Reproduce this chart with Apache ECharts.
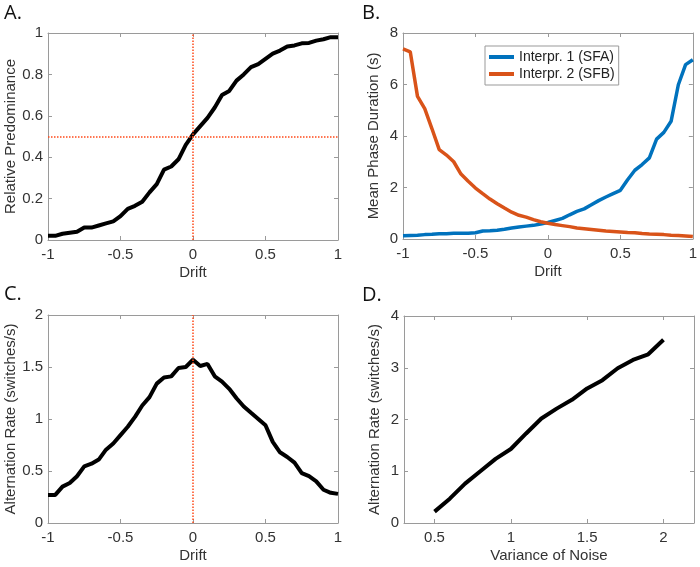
<!DOCTYPE html>
<html>
<head>
<meta charset="utf-8">
<script src="https://cdn.jsdelivr.net/npm/echarts@6/dist/echarts.min.js"></script>
<style>html,body{margin:0;padding:0;background:#fff;}#c{width:700px;height:567px;}</style>
</head>
<body>
<div id="c"></div>
<script>
// ---- data ----
const drift = [-1, -0.95, -0.9, -0.85, -0.8, -0.75, -0.7, -0.65, -0.6, -0.55, -0.5, -0.45, -0.4, -0.35, -0.3, -0.25, -0.2, -0.15, -0.1, -0.05, 0,
  0.05, 0.1, 0.15, 0.2, 0.25, 0.3, 0.35, 0.4, 0.45, 0.5, 0.55, 0.6, 0.65, 0.7, 0.75, 0.8, 0.85, 0.9, 0.95, 1];
const predominance = [0.02, 0.02, 0.03, 0.035, 0.04, 0.06, 0.06, 0.07, 0.08, 0.09, 0.115, 0.15, 0.165, 0.185, 0.23, 0.27, 0.34, 0.355, 0.39, 0.46, 0.51,
  0.55, 0.59, 0.64, 0.70, 0.72, 0.77, 0.80, 0.835, 0.85, 0.875, 0.90, 0.915, 0.935, 0.94, 0.95, 0.952, 0.963, 0.97, 0.98, 0.98];
const durSFA = [0.13, 0.14, 0.15, 0.17, 0.18, 0.2, 0.2, 0.22, 0.22, 0.22, 0.24, 0.31, 0.32, 0.34, 0.38, 0.43, 0.47, 0.5, 0.53, 0.58, 0.64,
  0.72, 0.8, 0.94, 1.07, 1.17, 1.33, 1.49, 1.63, 1.76, 1.89, 2.3, 2.67, 2.89, 3.15, 3.88, 4.14, 4.57, 5.99, 6.77, 6.96];
const durSFB = [7.38, 7.27, 5.54, 5.06, 4.28, 3.47, 3.26, 3.0, 2.52, 2.24, 1.98, 1.76, 1.55, 1.37, 1.2, 1.04, 0.92, 0.85, 0.75, 0.67, 0.61,
  0.56, 0.52, 0.48, 0.43, 0.40, 0.37, 0.34, 0.31, 0.29, 0.27, 0.25, 0.24, 0.21, 0.19, 0.18, 0.17, 0.15, 0.14, 0.12, 0.10];
const altRate = [0.27, 0.27, 0.35, 0.385, 0.45, 0.545, 0.57, 0.61, 0.705, 0.765, 0.845, 0.925, 1.02, 1.13, 1.21, 1.34, 1.40, 1.41, 1.49, 1.50, 1.57,
  1.51, 1.53, 1.41, 1.36, 1.29, 1.20, 1.12, 1.06, 1.00, 0.94, 0.78, 0.68, 0.635, 0.58, 0.48, 0.45, 0.40, 0.32, 0.29, 0.28];
const noiseVar = [0.5, 0.6, 0.7, 0.8, 0.9, 1.0, 1.1, 1.2, 1.3, 1.4, 1.5, 1.6, 1.7, 1.8, 1.9, 2.0];
const noiseRate = [0.22, 0.47, 0.76, 1.0, 1.24, 1.43, 1.73, 2.02, 2.21, 2.38, 2.6, 2.76, 2.99, 3.15, 3.26, 3.54];
const noiseTicks = [0.5, 1, 1.5, 2];
const seriesNames = ['Interpr. 1 (SFA)', 'Interpr. 2 (SFB)'];

const pairs = (xs, ys) => xs.map((x, i) => [x, ys[i]]);

const FONT = "'Liberation Sans', Arial, Helvetica, sans-serif";
const TXT = '#333';
const AX = '#9a9a9a';
const RED = '#ff4a1a';

const grids = [
  {left: 48, top: 33, width: 290, height: 207},
  {left: 403, top: 33, width: 291, height: 206},
  {left: 48, top: 315, width: 290, height: 208},
  {left: 404, top: 316, width: 290, height: 207}
];

function mainX(g, min, max, interval, name, extra) {
  return Object.assign({
    type: 'value', gridIndex: g, min, max, interval, position: 'bottom',
    name, nameLocation: 'middle', nameGap: 25,
    nameTextStyle: {fontFamily: FONT, fontSize: 15, color: TXT},
    axisLine: {show: true, onZero: false, lineStyle: {color: AX, width: 1}},
    axisTick: {show: true, inside: true, length: 4, lineStyle: {color: AX}},
    axisLabel: {fontFamily: FONT, fontSize: 15, color: TXT, margin: 7},
    splitLine: {show: false}
  }, extra || {});
}
function mirrorX(g, min, max, interval, extra) {
  return Object.assign({
    type: 'value', gridIndex: g, min, max, interval, position: 'top',
    axisLine: {show: true, onZero: false, lineStyle: {color: AX, width: 1}},
    axisTick: {show: true, inside: true, length: 4, lineStyle: {color: AX}},
    axisLabel: {show: false}, splitLine: {show: false}
  }, extra || {});
}
function mainY(g, min, max, interval, name, gap) {
  return {
    type: 'value', gridIndex: g, min, max, interval, position: 'left',
    name, nameLocation: 'middle', nameGap: gap, nameRotate: 90,
    nameTextStyle: {fontFamily: FONT, fontSize: 15, color: TXT},
    axisLine: {show: true, onZero: false, lineStyle: {color: AX, width: 1}},
    axisTick: {show: true, inside: true, length: 4, lineStyle: {color: AX}},
    axisLabel: {fontFamily: FONT, fontSize: 15, color: TXT, margin: 5},
    splitLine: {show: false}
  };
}
function mirrorY(g, min, max, interval) {
  return {
    type: 'value', gridIndex: g, min, max, interval, position: 'right',
    axisLine: {show: true, onZero: false, lineStyle: {color: AX, width: 1}},
    axisTick: {show: true, inside: true, length: 4, lineStyle: {color: AX}},
    axisLabel: {show: false}, splitLine: {show: false}
  };
}

const dXExtra = {axisLabel: {fontFamily: FONT, fontSize: 15, color: TXT, margin: 7, customValues: noiseTicks},
                 axisTick: {show: true, inside: true, length: 4, lineStyle: {color: AX}, customValues: noiseTicks}};
const dXMirrorExtra = {axisTick: {show: true, inside: true, length: 4, lineStyle: {color: AX}, customValues: noiseTicks}};

const xAxes = [
  mainX(0, -1, 1, 0.5, 'Drift'),
  mainX(1, -1, 1, 0.5, 'Drift'),
  mainX(2, -1, 1, 0.5, 'Drift'),
  mainX(3, 0.3, 2.2, null, 'Variance of Noise', dXExtra),
  mirrorX(0, -1, 1, 0.5),
  mirrorX(1, -1, 1, 0.5),
  mirrorX(2, -1, 1, 0.5),
  mirrorX(3, 0.3, 2.2, null, dXMirrorExtra)
];
const yAxes = [
  mainY(0, 0, 1, 0.2, 'Relative Predominance', 30),
  mainY(1, 0, 8, 2, 'Mean Phase Duration (s)', 22),
  mainY(2, 0, 2, 0.5, 'Alternation Rate (switches/s)', 30),
  mainY(3, 0, 4, 1, 'Alternation Rate (switches/s)', 22),
  mirrorY(0, 0, 1, 0.2),
  mirrorY(1, 0, 8, 2),
  mirrorY(2, 0, 2, 0.5),
  mirrorY(3, 0, 4, 1)
];

const redLine = {color: RED, type: 'dotted', width: 1.5};

const option = {
  animation: false,
  backgroundColor: '#fff',
  grid: grids,
  xAxis: xAxes,
  yAxis: yAxes,
  legend: {
    data: seriesNames, orient: 'vertical', left: 485, top: 46,
    icon: 'rect', itemWidth: 25, itemHeight: 4, itemGap: 3,
    borderColor: '#999', borderWidth: 1, borderRadius: 0,
    padding: [4, 4, 4, 4], backgroundColor: '#fff',
    textStyle: {fontFamily: FONT, fontSize: 14, color: '#222'}
  },
  series: [
    {type: 'line', xAxisIndex: 0, yAxisIndex: 0, data: pairs(drift, predominance), showSymbol: false,
     lineStyle: {color: '#000', width: 4}, itemStyle: {color: '#000'}, z: 3,
     markLine: {silent: true, symbol: 'none', label: {show: false}, lineStyle: redLine,
       data: [{xAxis: 0}, {yAxis: 0.5}]}},
    {type: 'line', name: seriesNames[0], xAxisIndex: 1, yAxisIndex: 1, data: pairs(drift, durSFA), showSymbol: false,
     lineStyle: {color: '#0072BD', width: 3.5}, itemStyle: {color: '#0072BD'}},
    {type: 'line', name: seriesNames[1], xAxisIndex: 1, yAxisIndex: 1, data: pairs(drift, durSFB), showSymbol: false,
     lineStyle: {color: '#D95319', width: 3.5}, itemStyle: {color: '#D95319'}},
    {type: 'line', xAxisIndex: 2, yAxisIndex: 2, data: pairs(drift, altRate), showSymbol: false,
     lineStyle: {color: '#000', width: 4}, itemStyle: {color: '#000'}, z: 3,
     markLine: {silent: true, symbol: 'none', label: {show: false}, lineStyle: redLine,
       data: [{xAxis: 0}]}},
    {type: 'line', xAxisIndex: 3, yAxisIndex: 3, data: pairs(noiseVar, noiseRate), showSymbol: false,
     lineStyle: {color: '#000', width: 4}, itemStyle: {color: '#000'}}
  ],
  graphic: [
    {type: 'text', left: 4, top: 3, style: {text: 'A.', font: '20px "Open Sans", sans-serif', fill: '#111'}},
    {type: 'text', left: 362, top: 3, style: {text: 'B.', font: '20px "Open Sans", sans-serif', fill: '#111'}},
    {type: 'text', left: 4, top: 284, style: {text: 'C.', font: '20px "Open Sans", sans-serif', fill: '#111'}},
    {type: 'text', left: 362, top: 285, style: {text: 'D.', font: '20px "Open Sans", sans-serif', fill: '#111'}}
  ]
};

const chart = echarts.init(document.getElementById('c'), null, {renderer: 'canvas'});
chart.setOption(option);
</script>
</body>
</html>
